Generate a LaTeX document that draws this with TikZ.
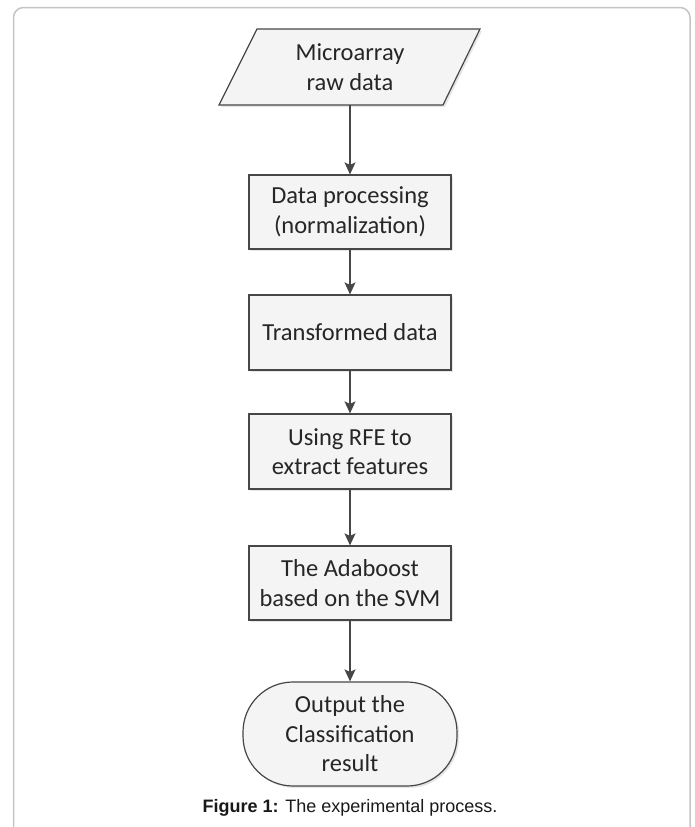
\documentclass[tikz,border=0pt]{standalone}
\usepackage{fontspec}
\setmainfont{Carlito}
\newfontfamily\capfont{Liberation Sans}
\usetikzlibrary{arrows.meta,shapes.geometric,shadows}
\definecolor{edge}{HTML}{474747}
\definecolor{boxfill}{HTML}{F4F4F4}
\definecolor{framec}{HTML}{C4C4C4}
\tikzset{
  boxtext/.style={align=center, font=\fontsize{24.5}{29.5}\selectfont, text=black!85},
  flowbox/.style={boxtext, draw=edge, line width=1.2pt, fill=boxfill,
    drop shadow={shadow xshift=2pt, shadow yshift=-2pt, fill=black!12, opacity=0.8}},
  conn/.style={draw=edge, line width=1.3pt, -{Stealth[length=12pt,width=11pt,inset=2.5pt]}}
}
\begin{document}
\begin{tikzpicture}[x=1pt,y=-1pt]
\useasboundingbox (0,0) rectangle (695,827);
\begin{scope}
\clip (0,0) rectangle (695,827);
\draw[framec, line width=1.5pt, rounded corners=10pt] (13.5,7.5) rectangle (690,860);
\end{scope}
% parallelogram
\path[flowbox] (257,29) -- (480,29) -- (443,105) -- (219,105) -- cycle;
\node[boxtext, minimum width=150pt, minimum height=76pt] (n1) at (350,67) {Microarray\\raw data};
\node[flowbox, minimum width=202pt, minimum height=74pt] (n2) at (350,212) {Data processing\\(normalization)};
\node[flowbox, minimum width=202pt, minimum height=75pt] (n3) at (350,332.5) {Transformed data};
\node[flowbox, minimum width=202pt, minimum height=75pt] (n4) at (350,451.5) {Using RFE to\\extract features};
\node[flowbox, minimum width=202pt, minimum height=74pt] (n5) at (350,583) {The Adaboost\\based on the SVM};
\node[flowbox, rounded corners=50pt, minimum width=214pt, minimum height=104pt] (n6) at (350,734) {Output the\\Classification\\result};
\draw[conn] (n1.south) -- (n2.north);
\draw[conn] (n2) -- (n3);
\draw[conn] (n3) -- (n4);
\draw[conn] (n4) -- (n5);
\draw[conn] (n5) -- (n6);
\node[font=\capfont\fontsize{18}{21}\selectfont, text=black!90] (cap) at (350,808) {\textbf{Figure 1:} The experimental process.};
\end{tikzpicture}
\end{document}
